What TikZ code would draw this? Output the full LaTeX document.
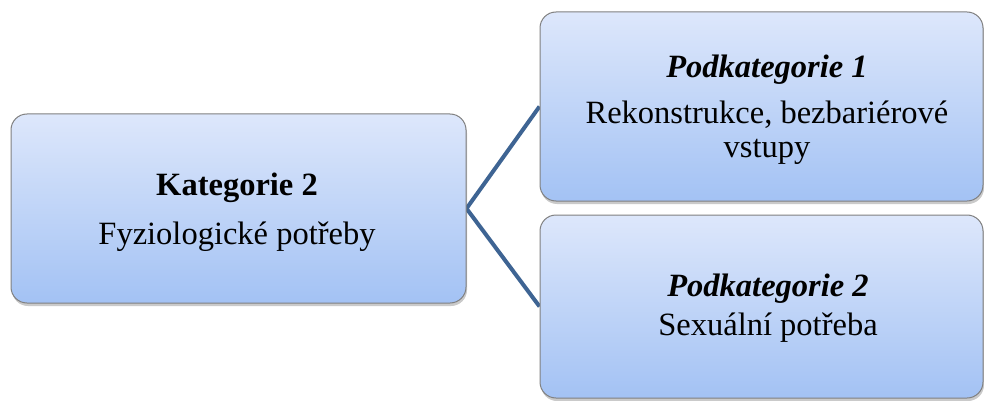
\documentclass[tikz,border=0pt]{standalone}
\usepackage{fontspec}
\setmainfont{Liberation Serif}
\usetikzlibrary{shadows,backgrounds}
\definecolor{boxtop}{RGB}{221,231,251}
\definecolor{boxbot}{RGB}{163,194,244}
\definecolor{boxline}{RGB}{128,128,128}
\definecolor{conn}{RGB}{62,100,147}
\tikzset{
  catbox/.style={draw=boxline, line width=1pt, rounded corners=16pt,
    top color=boxtop, bottom color=boxbot, inner sep=0pt,
    drop shadow={shadow xshift=1pt, shadow yshift=-3pt, opacity=0.35, fill=black!60}},
  cattext/.style={align=center, font=\fontsize{32.5}{34}\selectfont, inner sep=0pt},
  link/.style={draw=conn, line width=4pt}
}
\begin{document}
\begin{tikzpicture}[x=1pt,y=-1pt]
\useasboundingbox (0,0) rectangle (984,401);
\node[catbox, minimum width=455pt, minimum height=189pt] (k2) at (238.5,208.5) {};
\node[catbox, minimum width=443pt, minimum height=189pt] (p1) at (761.5,106.5) {};
\node[catbox, minimum width=443pt, minimum height=183pt] (p2) at (761.5,306.5) {};
\node[cattext] (k2t) at (237,212.5) {\textbf{Kategorie 2}\\[15pt]Fyziologické potřeby};
\node[cattext] (p1t) at (767,109.3) {\textbf{\textit{Podkategorie 1}}\\[12pt]Rekonstrukce, bezbariérové\\vstupy};
\node[cattext] (p2t) at (768,308.4) {\textbf{\textit{Podkategorie 2}}\\[5pt]Sexuální potřeba};
\begin{scope}[on background layer]
\draw[link] (p1.west) -- (k2.east) -- (p2.west);
\end{scope}
\end{tikzpicture}
\end{document}
